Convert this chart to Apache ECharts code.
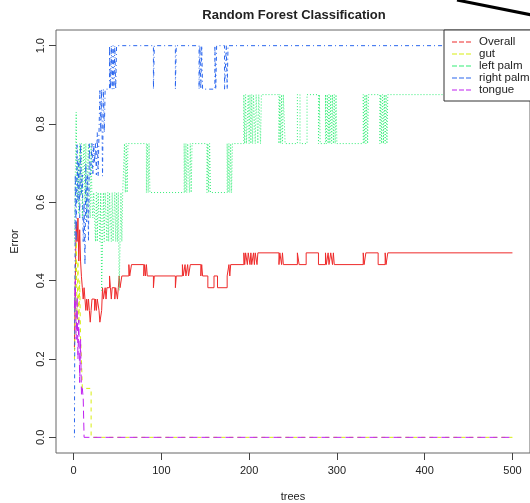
<!DOCTYPE html>
<html>
<head>
<meta charset="utf-8">
<script src="https://cdn.jsdelivr.net/npm/echarts@6/dist/echarts.min.js"></script>
<style>
  html, body { margin: 0; padding: 0; background: #fff; }
  #chart { width: 530px; height: 503px; }
</style>
</head>
<body>
<div id="chart"></div>
<script>
// error rate per number of trees, only the points where the value changes: [tree, error]
var seriesNames = ['Overall', 'gut', 'left palm', 'right palm', 'tongue'];
var xTicks = [0, 100, 200, 300, 400, 500];
var yTicks = [0, 0.2, 0.4, 0.6, 0.8, 1.0];

var overall = [
  [1,0.23],[2,0.4],[3,0.55],[4,0.5],[5,0.56],[6,0.45],[7,0.53],[8,0.45],[9,0.41],[10,0.382],
  [11,0.353],[12,0.382],[13,0.353],[14,0.324],[15,0.353],[16,0.324],[17,0.353],[18,0.324],[19,0.294],
  [20,0.324],[21,0.353],[24,0.324],[25,0.353],[26,0.324],[27,0.353],[29,0.324],[30,0.294],[32,0.324],
  [33,0.382],[34,0.353],[36,0.382],[37,0.353],[38,0.382],[41,0.412],[42,0.382],[43,0.353],[44,0.382],
  [47,0.353],[48,0.382],[50,0.353],[51,0.382],[52,0.412],[53,0.382],[55,0.412],[63,0.441],[64,0.412],
  [66,0.441],[80,0.412],[81,0.441],[82,0.412],[83,0.441],[84,0.412],[91,0.382],[92,0.412],[116,0.382],
  [117,0.412],[124,0.441],[125,0.412],[127,0.441],[128,0.412],[130,0.441],[131,0.412],[133,0.441],
  [145,0.412],[146,0.441],[147,0.412],[153,0.382],[160,0.412],[164,0.382],[175,0.412],[177,0.441],
  [178,0.412],[179,0.441],[194,0.471],[195,0.441],[196,0.471],[198,0.441],[199,0.471],[201,0.441],
  [202,0.471],[203,0.441],[205,0.471],[206,0.441],[207,0.471],[209,0.441],[210,0.471],[234,0.441],
  [235,0.471],[237,0.441],[238,0.471],[239,0.441],[255,0.471],[257,0.441],[265,0.471],[279,0.441],
  [287,0.471],[288,0.441],[290,0.471],[291,0.441],[293,0.471],[295,0.441],[296,0.471],[297,0.441],
  [330,0.471],[331,0.441],[333,0.471],[347,0.441],[355,0.471],[356,0.441],[358,0.471],[500,0.471]
];

var gut = [
  [1,0.2],[2,0.33],[3,0.5],[4,0.3],[5,0.45],[6,0.29],[7,0.4],[8,0.25],[9,0.2],[10,0.125],[20,0],[500,0]
];

var leftPalm = [
  [1,0.5],[2,0.67],[3,0.83],[4,0.6],[5,0.71],[6,0.57],[7,0.75],[8,0.62],[9,0.75],[10,0.56],[11,0.7],
  [12,0.75],[13,0.6],[14,0.75],[15,0.56],[16,0.7],[17,0.75],[18,0.6],[19,0.56],[20,0.75],[21,0.6],
  [22,0.56],[23,0.625],[25,0.5],[26,0.625],[27,0.5],[28,0.625],[30,0.5],[31,0.625],[32,0.375],[33,0.5],
  [34,0.625],[35,0.5],[36,0.625],[38,0.5],[39,0.625],[40,0.5],[41,0.625],[43,0.5],[44,0.625],[45,0.5],
  [47,0.625],[48,0.5],[49,0.625],[50,0.5],[51,0.625],[52,0.375],[53,0.5],[54,0.625],[55,0.5],[56,0.625],
  [58,0.75],[59,0.625],[60,0.75],[61,0.625],[62,0.75],[83,0.625],[84,0.75],[85,0.625],[86,0.75],
  [87,0.625],[126,0.75],[127,0.625],[128,0.75],[129,0.625],[130,0.75],[132,0.625],[133,0.75],
  [134,0.625],[135,0.75],[152,0.625],[153,0.75],[154,0.625],[155,0.75],[156,0.625],[175,0.75],
  [176,0.625],[177,0.75],[178,0.625],[179,0.75],[180,0.625],[181,0.75],[194,0.875],[195,0.75],
  [196,0.875],[197,0.75],[199,0.875],[200,0.75],[201,0.875],[202,0.75],[203,0.875],[204,0.75],
  [205,0.875],[207,0.75],[208,0.875],[210,0.75],[211,0.875],[213,0.75],[214,0.875],[234,0.75],
  [235,0.875],[236,0.75],[237,0.875],[238,0.75],[239,0.875],[241,0.75],[255,0.875],[258,0.75],
  [266,0.875],[279,0.75],[280,0.875],[281,0.75],[287,0.875],[288,0.75],[289,0.875],[290,0.75],
  [291,0.875],[292,0.75],[293,0.875],[294,0.75],[295,0.875],[296,0.75],[297,0.875],[298,0.75],
  [299,0.875],[300,0.75],[330,0.875],[331,0.75],[332,0.875],[333,0.75],[334,0.875],[335,0.75],
  [336,0.875],[349,0.75],[350,0.875],[351,0.75],[352,0.875],[353,0.75],[354,0.875],[355,0.75],
  [356,0.875],[357,0.75],[358,0.875],[500,0.875]
];

var rightPalm = [
  [1,0],[2,0.67],[3,0.5],[4,0.75],[5,0.6],[6,0.71],[7,0.56],[8,0.75],[9,0.62],[10,0.67],[11,0.5],
  [12,0.6],[13,0.44],[14,0.7],[15,0.55],[16,0.67],[17,0.5],[18,0.75],[19,0.67],[20,0.7],[21,0.75],
  [22,0.67],[23,0.75],[24,0.7],[25,0.75],[26,0.67],[27,0.778],[28,0.667],[29,0.778],[30,0.889],
  [31,0.778],[32,0.889],[33,0.667],[34,0.889],[35,0.778],[36,0.889],[41,1],[42,0.889],[43,1],
  [44,0.889],[45,1],[46,0.889],[47,1],[48,0.889],[49,1],[91,0.889],[92,1],[116,0.889],[117,1],
  [143,0.889],[144,1],[145,0.889],[146,1],[147,0.889],[161,1],[162,0.889],[163,1],[172,0.889],
  [174,1],[175,0.889],[176,1],[500,1]
];

var tongue = [
  [1,0.33],[2,0.4],[3,0.25],[4,0.36],[5,0.2],[6,0.3],[7,0.14],[8,0.25],[9,0.11],[10,0.125],[11,0.1],
  [12,0],[500,0]
];

var chart = echarts.init(document.getElementById('chart'));

var font = 'Liberation Sans, Arial, sans-serif';

function line(name, data, color, dash) {
  return {
    name: name,
    type: 'line',
    step: 'end',
    data: data,
    showSymbol: false,
    color: color,
    lineStyle: { width: 1, color: color, type: dash },
    emphasis: { disabled: true }
  };
}

chart.setOption({
  animation: false,
  textStyle: { fontFamily: font },
  title: {
    text: 'Random Forest Classification',
    left: 289,
    textAlign: 'center',
    top: 4,
    textStyle: { fontSize: 13, fontWeight: 'bold', color: '#222', fontFamily: font }
  },
  grid: {
    left: 56, right: 0, top: 30, bottom: 50,
    outerBoundsMode: 'none',
    show: true, borderColor: '#666', borderWidth: 1
  },
  legend: {
    orient: 'vertical',
    left: 444,
    top: 30,
    data: seriesNames,
    icon: 'path://M0,0h5v1h-5zM7,0h5v1h-5zM14,0h5v1h-5z',
    itemWidth: 19,
    itemHeight: 1.5,
    itemGap: 0,
    padding: [6, 30, 5, 8],
    backgroundColor: '#fff',
    borderColor: '#333',
    borderWidth: 1,
    borderRadius: 0,
    selectedMode: false,
    textStyle: { fontSize: 11.5, color: '#222', lineHeight: 12, padding: [0, 0, 0, 3], fontFamily: font }
  },
  xAxis: {
    type: 'value',
    min: -20,
    max: 520,
    name: 'trees',
    nameLocation: 'middle',
    nameGap: 38,
    nameTextStyle: { fontSize: 11, color: '#222' },
    axisLine: { show: false, onZero: false },
    splitLine: { show: false },
    axisTick: { show: true, length: 7, customValues: xTicks, lineStyle: { color: '#444' } },
    axisLabel: { customValues: xTicks, fontSize: 11, color: '#222', margin: 12 }
  },
  yAxis: {
    type: 'value',
    min: -0.04,
    max: 1.04,
    name: 'Error',
    nameLocation: 'middle',
    nameGap: 36,
    nameTextStyle: { fontSize: 11, color: '#222' },
    axisLine: { show: false, onZero: false },
    splitLine: { show: false },
    axisTick: { show: true, length: 7, customValues: yTicks, lineStyle: { color: '#444' } },
    axisLabel: {
      customValues: yTicks, rotate: 90, fontSize: 11, color: '#222', margin: 10,
      formatter: function (v) { return v.toFixed(1); }
    }
  },
  series: [
    line(seriesNames[0], overall, '#ee2a2a', 'solid'),
    line(seriesNames[1], gut, '#d8ee10', [4, 4]),
    line(seriesNames[2], leftPalm, '#33ee77', [1, 2]),
    line(seriesNames[3], rightPalm, '#2a66ee', [1, 3, 4, 3]),
    line(seriesNames[4], tongue, '#c020f0', [8, 4])
  ],
  graphic: [{
    type: 'line',
    shape: { x1: 457, y1: 0, x2: 532, y2: 15 },
    style: { stroke: '#000', lineWidth: 3 }
  }]
});
</script>
</body>
</html>
